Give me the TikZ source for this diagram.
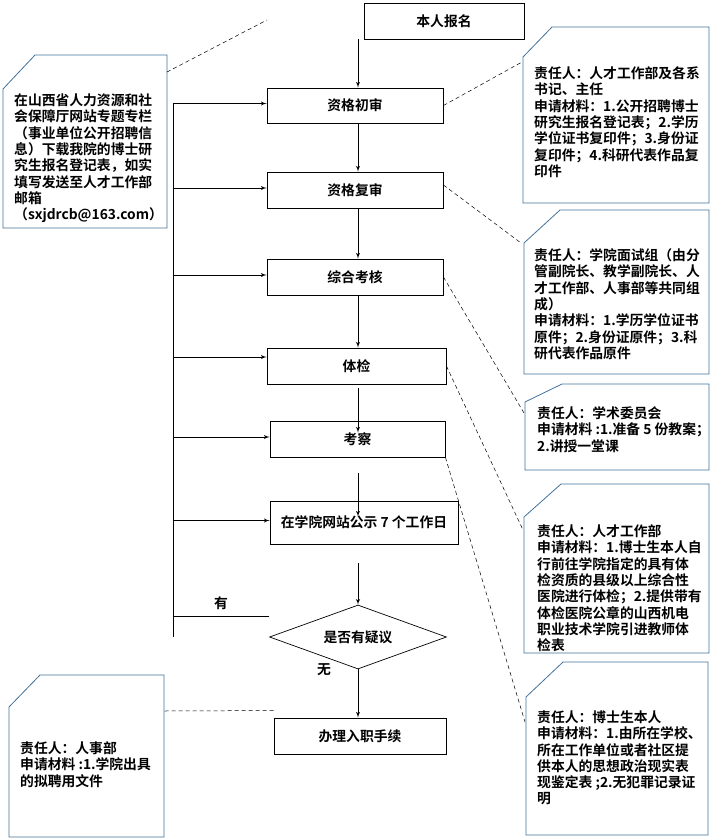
\documentclass[tikz,border=0pt]{standalone}
\usepackage{fontspec}
\setmainfont{Noto Sans CJK SC}[BoldFont={Noto Sans CJK SC Bold}]
\usepackage{xcolor}
\usepackage{tikz}
\usetikzlibrary{shapes.geometric,arrows}
\definecolor{noteblue}{HTML}{41719C}
\tikzstyle{block} = [rectangle, draw, line width=0.9pt, inner sep=0pt, minimum height=36pt, font=\bfseries\fontsize{13.8}{16.3}\selectfont]
\tikzstyle{decide} = [diamond, draw, line width=0.7pt, inner sep=0pt, shape aspect=2.7, minimum width=177pt, minimum height=64pt, font=\bfseries\fontsize{13.8}{16.3}\selectfont]
\tikzstyle{line} = [draw, line width=0.9pt, -latex']
\tikzstyle{note} = [draw=noteblue, line width=0.8pt]
\tikzstyle{notetext} = [anchor=north west, inner sep=0pt, align=left, font=\bfseries\fontsize{13.8}{16.3}\selectfont]
\tikzstyle{link} = [draw, dash pattern=on 4pt off 3pt, line width=0.5pt]

\begin{document}
\begin{tikzpicture}[x=1pt, y=-1pt]
        \useasboundingbox (0,0) rectangle (713,840);
        % Place nodes
        \node [block, minimum width=160pt] (signup) at (444,21) {本人报名};
        \node [block, minimum width=176pt, minimum height=35pt] (first) at (355,105.5) {资格初审};
        \node [block, minimum width=176pt] (second) at (355,190) {资格复审};
        \node [block, minimum width=176pt] (assess) at (355,277) {综合考核};
        \node [block, minimum width=179pt] (medical) at (356.5,366) {体检};
        \node [block, minimum width=175pt] (inspect) at (357.5,439) {考察};
        \node [block, minimum width=188pt, minimum height=43pt] (publish) at (364,522.5) {在学院网站公示 7 个工作日};
        \node [decide] (doubt) at (358,637) {是否有疑议};
        \node [block, minimum width=172pt] (hire) at (360,736) {办理入职手续};
        \coordinate (spine) at (358,0);
        \coordinate (rail) at (173,0);
        % Draw edges
        \path [line] (signup.south -| spine) -- (first.north -| spine);
        \path [line] (first.south -| spine) -- (second.north -| spine);
        \path [line] (second.south -| spine) -- (assess.north -| spine);
        \path [line] (assess.south -| spine) -- (medical.north -| spine);
        \path [line] ([yshift=-4pt]medical.south -| spine) -- ([yshift=-12pt]inspect.north -| spine);
        \path [line] ([yshift=-16pt]inspect.south -| spine) -- ([yshift=-16pt]publish.north -| spine);
        \path [line] ([yshift=-19pt]publish.south -| spine) -- (doubt.north);
        \path [line] (doubt.south) -- (hire.north -| doubt.south);
        % Return path
        \draw [line width=0.8pt] ([yshift=2pt]first.west -| rail) -- (doubt.west -| rail);
        \foreach \b in {first,second,assess,inspect,publish}
            \path [line] ([yshift=2pt]\b.west -| rail) -- ([yshift=2pt]\b.west);
        \path [line] ([yshift=9pt]medical.west -| rail) -- ([yshift=9pt]medical.west);
        \draw [line width=0.8pt] ([yshift=21pt]doubt.west) -- ([yshift=21pt]doubt.west -| rail)
            node [midway, above=3pt, font=\bfseries\fontsize{13.8}{16.3}\selectfont] {有};
        \node [font=\bfseries\fontsize{13.8}{16.3}\selectfont] (nolabel) at ([xshift=-34pt]doubt.south) {无};
        % Notes
        \draw [note] (3,89) -- (35,55) -- (167,55) -- (167,228) -- (3,228) -- cycle;
        \draw [note] (523,57) -- (552,27) -- (709,27) -- (709,203) -- (523,203) -- cycle;
        \draw [note] (524,243) -- (560,210) -- (709,210) -- (709,374) -- (524,374) -- cycle;
        \draw [note] (525,402) -- (562,384) -- (709,384) -- (709,470) -- (525,470) -- cycle;
        \draw [note] (524,517) -- (561,484) -- (709,484) -- (709,653) -- (524,653) -- cycle;
        \draw [note] (526,697) -- (563,662) -- (708,662) -- (708,835) -- (526,835) -- cycle;
        \draw [note] (9,707) -- (40,675) -- (164,675) -- (164,837) -- (9,837) -- cycle;
        \node [notetext] (apply) at (14,93.5) {在山西省人力资源和社\\会保障厅网站专题专栏\\（事业单位公开招聘信\\息）下载我院的博士研\\究生报名登记表，如实\\填写发送至人才工作部\\邮箱\\（sxjdrcb@163.com）};
        \node [notetext] (firstnote) at (534,66.5) {责任人：人才工作部及各系\\书记、主任\\申请材料：1.公开招聘博士\\研究生报名登记表；2.学历\\学位证书复印件；3.身份证\\复印件；4.科研代表作品复\\印件};
        \node [notetext] (secondnote) at (534,248.5) {责任人：学院面试组（由分\\管副院长、教学副院长、人\\才工作部、人事部等共同组\\成）\\申请材料：1.学历学位证书\\原件；2.身份证原件；3.科\\研代表作品原件};
        \node [notetext] (assessnote) at (537,406.5) {责任人：学术委员会\\申请材料 :1.准备 5 份教案；\\2.讲授一堂课};
        \node [notetext] (medicalnote) at (537,524.5) {责任人：人才工作部\\申请材料：1.博士生本人自\\行前往学院指定的具有体\\检资质的县级以上综合性\\医院进行体检；2.提供带有\\体检医院公章的山西机电\\职业技术学院引进教师体\\检表};
        \node [notetext] (inspectnote) at (537,710.5) {责任人：博士生本人\\申请材料：1.由所在学校、\\所在工作单位或者社区提\\供本人的思想政治现实表\\现鉴定表 ;2.无犯罪记录证\\明};
        \node [notetext] (hirenote) at (20,741.5) {责任人：人事部\\申请材料 :1.学院出具\\的拟聘用文件};
        % Dashed links
        \coordinate (applypin) at (167,72);
        \coordinate (applyend) at (267,20);
        \coordinate (firstpin) at (522,62);
        \coordinate (secondpin) at (521,243);
        \coordinate (assesspin) at (524,413);
        \coordinate (medicalpin) at (523,530);
        \coordinate (inspectpin) at (525,722);
        \coordinate (hirepin) at (164,711);
        \path [link] (applypin) -- (applyend);
        \path [link] (first.east) -- (firstpin);
        \path [link] ([yshift=5pt]second.east) -- (secondpin);
        \path [link] (assess.east) -- (assesspin);
        \path [link] (medical.east) -- (medicalpin);
        \path [link] (inspect.south east) -- (inspectpin);
        \path [link] ([yshift=7pt]hire.north west) -- (hirepin);
    \end{tikzpicture}
\end{document}
